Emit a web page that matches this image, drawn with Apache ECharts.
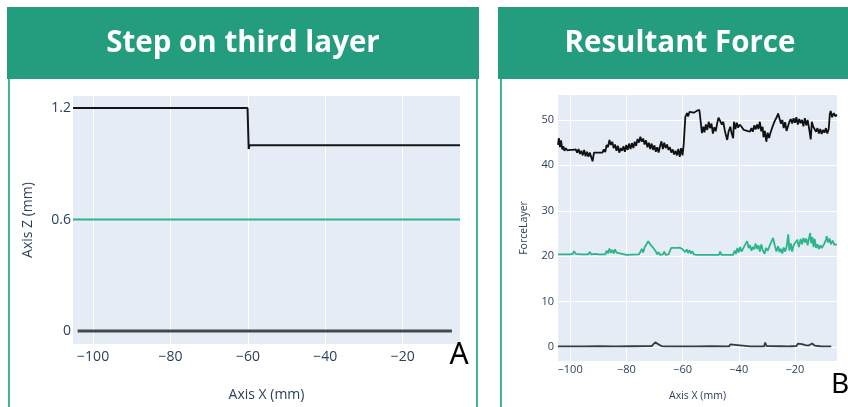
<!DOCTYPE html>
<html>
<head>
<meta charset="utf-8">
<style>
html,body{margin:0;padding:0;background:#fff;}
#chart{width:848px;height:407px;}
</style>
<script src="https://cdn.jsdelivr.net/npm/echarts@6/dist/echarts.min.js"></script>
</head>
<body>
<div id="chart"></div>
<script>
// ---- Panel titles / labels ----
const titleLeft = 'Step on third layer';
const titleRight = 'Resultant Force';
const panelTagLeft = 'A';
const panelTagRight = 'B';
const axisXName = 'Axis X (mm)';
const axisZName = 'Axis Z (mm)';
const forceName = 'ForceLayer';
const zTicks = [0, 0.6, 1.2];

// ---- Left panel: step on third layer ----
const stepX = [-105.2, -60.1, -59.8, -59.6, -59.2, -5.2];
const stepZ = [1.2, 1.2, 0.98, 1.0, 1.0, 1.0];
const layerX = [-105.2, -5.2];
const layerZ = [0.6, 0.6];
const baseX = [-104.0, -7.3];
const baseZ = [0, 0];

// ---- Right panel: resultant force ----
const forceTopX = [
 -104.3,-104.0,-103.6,-103.2,-102.8,-102.4,-102.0,-101.5,-101.0,-100.0,
 -99.0,-98.5,-98.0,-97.5,-97.0,-96.5,-96.0,-95.5,-95.0,-94.5,
 -94.0,-93.5,-93.0,-92.5,-92.0,-91.5,-90.0,-88.5,-88.0,-87.5,
 -87.0,-86.5,-86.0,-85.5,-85.0,-84.5,-84.0,-83.5,-83.0,-82.5,
 -82.0,-81.5,-81.0,-80.5,-80.0,-79.5,-79.0,-78.5,-78.0,-77.5,
 -77.0,-76.5,-76.0,-75.5,-75.0,-74.5,-74.0,-73.5,-73.0,-72.5,
 -72.0,-71.5,-71.0,-70.5,-70.0,-69.5,-69.0,-68.5,-68.0,-67.5,
 -67.0,-66.5,-66.0,-65.5,-65.0,-64.5,-64.0,-63.5,-63.0,-62.5,
 -62.0,-61.5,-61.0,-60.5,-60.0,-59.6,-59.0,-58.4,-58.0,-57.5,
 -57.0,-56.0,-55.0,-54.0,-53.6,-53.1,-52.6,-52.2,-51.7,-51.2,
 -50.7,-50.2,-49.7,-49.2,-48.7,-48.2,-47.7,-47.2,-46.5,-46.0,
 -45.5,-45.0,-44.5,-44.1,-43.6,-43.0,-42.5,-42.0,-41.7,-41.2,
 -40.7,-40.2,-39.7,-39.0,-38.2,-37.0,-36.0,-35.5,-35.0,-34.5,
 -34.0,-33.5,-33.0,-32.5,-32.0,-31.5,-31.2,-30.7,-30.2,-29.7,
 -29.2,-28.8,-28.0,-27.2,-26.5,-26.0,-25.5,-25.0,-24.5,-24.0,
 -23.5,-23.0,-22.4,-22.0,-21.5,-21.0,-20.5,-20.0,-19.5,-19.0,
 -18.5,-18.0,-17.5,-17.0,-16.5,-16.0,-15.5,-15.0,-14.4,-14.0,
 -13.5,-13.0,-12.5,-12.0,-11.5,-11.0,-10.5,-10.0,-9.5,-9.0,
 -8.5,-8.0,-7.6,-7.3,-6.8,-6.2,-5.6,-5.1
];
const forceTopY = [
 44.5,46.0,44.0,45.5,43.5,44.2,43.2,43.8,43.3,43.4,
 43.4,43.8,43.5,42.8,43.6,42.5,43.2,42.2,43.4,42.0,
 43.0,41.9,42.8,42.6,40.9,42.8,42.8,42.8,43.5,42.9,
 44.5,44.0,45.6,44.5,45.2,43.8,44.6,43.2,44.3,42.8,
 43.8,43.2,44.2,43.0,44.5,43.4,44.8,43.6,44.9,43.8,
 45.2,44.3,45.8,45.0,46.3,45.2,45.9,44.6,45.5,44.0,
 45.0,43.6,44.8,43.4,44.4,43.0,44.0,42.8,44.2,45.3,
 43.6,45.0,43.8,44.6,43.4,44.0,42.8,43.5,42.4,43.2,
 42.2,43.6,41.9,43.8,42.2,44.5,50.7,51.5,50.8,51.8,
 51.4,51.6,52.0,52.2,51.8,47.1,48.5,47.3,49.0,47.8,
 49.6,48.2,49.2,47.0,48.4,47.5,49.2,50.5,50.3,49.0,
 49.6,47.8,46.5,45.6,47.5,48.5,47.0,46.0,49.6,48.0,
 49.4,48.3,49.0,48.5,47.8,47.6,47.4,48.2,47.4,48.8,
 47.9,49.0,48.0,49.6,47.5,48.5,46.2,47.6,45.2,47.2,
 46.0,47.0,48.5,49.8,50.6,51.4,50.3,49.2,50.0,48.2,
 49.5,47.6,48.8,49.6,50.2,49.2,50.4,49.4,50.6,49.0,
 50.2,49.3,50.0,48.6,50.4,48.8,50.0,48.2,45.7,49.6,
 48.5,48.6,47.4,48.2,47.0,48.0,46.9,47.8,47.2,48.2,
 47.0,48.0,51.3,52.0,50.6,51.5,50.8,51.2
];

const forceMidX = [
 -104.3,-100.0,-99.0,-98.6,-98.0,-96.0,-93.5,-93.0,-92.5,-91.0,
 -90.5,-90.0,-87.5,-87.0,-86.5,-86.0,-85.5,-85.0,-84.5,-84.0,
 -83.5,-83.0,-80.0,-75.5,-75.0,-74.5,-74.0,-73.5,-73.0,-72.2,
 -71.5,-70.5,-69.5,-69.0,-68.5,-68.0,-67.0,-66.5,-66.0,-65.0,
 -64.5,-64.0,-62.0,-61.0,-60.0,-59.5,-59.0,-58.5,-58.0,-57.5,
 -57.0,-56.5,-56.0,-55.0,-47.0,-46.6,-46.2,-42.0,-41.5,-41.0,
 -40.5,-40.0,-39.5,-39.0,-38.5,-38.0,-37.0,-36.5,-36.0,-35.5,
 -35.0,-34.5,-34.0,-33.5,-33.0,-32.5,-32.0,-31.5,-30.8,-30.3,
 -29.7,-28.8,-27.8,-27.2,-26.6,-26.0,-25.5,-25.0,-24.5,-24.0,
 -23.5,-23.0,-22.4,-22.0,-21.5,-21.0,-20.5,-19.8,-19.2,-18.6,
 -18.0,-17.5,-17.0,-16.5,-16.0,-15.5,-14.6,-14.2,-13.8,-13.4,
 -13.0,-12.5,-12.0,-11.5,-11.0,-10.5,-10.0,-9.5,-9.0,-8.7,
 -8.2,-7.7,-7.2,-6.6,-6.0,-5.1
];
const forceMidY = [
 20.4,20.4,20.5,21.1,20.5,20.4,20.4,20.9,20.4,20.5,
 20.9,20.4,20.4,21.2,20.6,21.7,20.7,21.4,20.6,21.5,
 20.8,20.5,20.3,20.4,20.9,21.6,20.8,21.9,21.5,23.3,
 22.6,21.9,21.0,20.4,20.9,20.3,20.4,21.0,20.3,20.4,
 21.1,21.8,21.8,21.9,21.5,21.8,20.9,21.5,20.7,21.3,
 20.6,21.1,20.4,20.3,20.3,21.0,20.3,20.3,21.2,20.5,
 21.8,20.8,22.0,21.0,21.6,22.2,23.3,21.8,22.4,21.2,
 22.0,21.5,22.8,21.6,22.4,21.0,22.6,21.4,20.5,21.8,
 21.2,22.6,24.0,22.4,21.0,22.2,20.9,21.6,20.6,21.9,
 21.0,22.0,24.8,21.2,22.8,21.0,22.4,22.5,23.6,22.0,
 23.8,22.6,24.0,23.0,23.9,22.4,25.1,22.8,24.2,22.0,
 23.8,21.8,22.6,21.6,22.4,21.8,22.2,22.8,23.6,24.4,
 23.0,23.9,22.6,23.4,22.5,22.6
];

const forceLowX = [
 -104.3,-95.0,-90.0,-84.5,-84.0,-83.5,-78.0,-71.0,-70.3,-69.7,
 -69.0,-68.3,-67.5,-66.0,-55.0,-50.0,-43.5,-43.0,-42.3,-36.0,
 -31.0,-30.6,-30.1,-25.0,-22.2,-21.7,-21.2,-19.5,-18.9,-18.3,
 -17.5,-16.8,-16.3,-15.2,-13.9,-13.0,-11.0,-9.0,-7.1
];
const forceLowY = [
 0.1,0.1,0.15,0.1,0.45,0.1,0.15,0.2,0.5,1.0,
 0.8,0.5,0.2,0.1,0.1,0.15,0.1,0.55,0.15,0.1,
 0.1,0.95,0.2,0.15,0.1,0.5,0.15,0.2,0.75,0.45,
 0.6,1.0,0.4,0.3,0.75,0.3,0.15,0.1,0.1
];

const zip = (xs, ys) => xs.map((x, i) => [x, ys[i]]);

const HEADER = '#249d7e';
const BORDER = '#3fb692';
const PLOTBG = '#e5ecf6';
const TICK = '#2a3f5f';
const FONT = '"Open Sans", "Noto Sans", sans-serif';

function xLabel(v) {
  if (Math.abs(v / 20 - Math.round(v / 20)) > 1e-6) return '';
  return v < 0 ? '\u2212' + Math.abs(Math.round(v)) : String(Math.round(v));
}

const chart = echarts.init(document.getElementById('chart'), null, {renderer: 'canvas'});

const option = {
  backgroundColor: '#ffffff',
  animation: false,
  textStyle: {fontFamily: FONT},
  grid: [
    {left: 73, top: 96, width: 387, height: 250, show: true, backgroundColor: PLOTBG, borderWidth: 0},
    {left: 558, top: 95, width: 279, height: 267, show: true, backgroundColor: PLOTBG, borderWidth: 0}
  ],
  xAxis: [
    {
      type: 'value', gridIndex: 0, min: -105.2, max: -5.2,
      name: axisXName, nameLocation: 'middle', nameGap: 44,
      nameTextStyle: {color: TICK, fontSize: 14, fontFamily: FONT},
      axisLine: {show: false}, axisTick: {show: false},
      axisLabel: {color: TICK, fontSize: 14, margin: 6, formatter: xLabel, fontFamily: FONT},
      splitLine: {show: true, showMinLine: false, showMaxLine: false, lineStyle: {color: '#ffffff', width: 1}}
    },
    {
      type: 'value', gridIndex: 1, min: -104.3, max: -5.05,
      name: axisXName, nameLocation: 'middle', nameGap: 30,
      nameTextStyle: {color: TICK, fontSize: 10.5, fontFamily: FONT},
      axisLine: {show: false}, axisTick: {show: false},
      axisLabel: {color: TICK, fontSize: 11, margin: 3, formatter: xLabel, fontFamily: FONT},
      splitLine: {show: true, showMinLine: false, showMaxLine: false, lineStyle: {color: '#ffffff', width: 1}}
    }
  ],
  yAxis: [
    {
      type: 'value', gridIndex: 0, min: -0.07, max: 1.265,
      name: axisZName, nameLocation: 'middle', nameGap: 38,
      nameTextStyle: {color: TICK, fontSize: 14, fontFamily: FONT},
      axisLine: {show: false}, axisTick: {show: false},
      axisLabel: {
        color: TICK, fontSize: 14, margin: 2, fontFamily: FONT,
        formatter: v => {
          const t = zTicks.find(z => Math.abs(v - z) < 1e-6);
          return t === undefined ? '' : String(t);
        }
      },
      splitLine: {show: false}
    },
    {
      type: 'value', gridIndex: 1, min: -3.1, max: 55.5,
      name: forceName, nameLocation: 'middle', nameGap: 28,
      nameTextStyle: {color: TICK, fontSize: 10.5, fontFamily: FONT},
      axisLine: {show: false}, axisTick: {show: false},
      axisLabel: {
        color: TICK, fontSize: 11, margin: 4, fontFamily: FONT,
        formatter: v => (Math.abs(v / 10 - Math.round(v / 10)) < 1e-6 ? String(Math.round(v)) : '')
      },
      splitLine: {show: true, showMinLine: false, showMaxLine: false, lineStyle: {color: '#ffffff', width: 1}}
    }
  ],
  series: [
    {type: 'line', xAxisIndex: 0, yAxisIndex: 0, data: zip(baseX, baseZ), showSymbol: false, lineStyle: {color: '#3c4d4a', width: 3}},
    {type: 'line', xAxisIndex: 0, yAxisIndex: 0, data: zip(layerX, layerZ), showSymbol: false, lineStyle: {color: '#2db58a', width: 2}},
    {type: 'line', xAxisIndex: 0, yAxisIndex: 0, data: zip(stepX, stepZ), showSymbol: false, lineStyle: {color: '#151515', width: 2}},
    {type: 'line', xAxisIndex: 1, yAxisIndex: 1, data: zip(forceLowX, forceLowY), showSymbol: false, lineStyle: {color: '#2f403c', width: 1.8}},
    {type: 'line', xAxisIndex: 1, yAxisIndex: 1, data: zip(forceMidX, forceMidY), showSymbol: false, lineStyle: {color: '#2db58a', width: 1.8}},
    {type: 'line', xAxisIndex: 1, yAxisIndex: 1, data: zip(forceTopX, forceTopY), showSymbol: false, lineStyle: {color: '#111111', width: 1.8}}
  ],
  graphic: [
    {type: 'rect', shape: {x: 7, y: 7, width: 472, height: 72}, style: {fill: HEADER}, z: 10},
    {type: 'rect', shape: {x: 498, y: 7, width: 350, height: 72}, style: {fill: HEADER}, z: 10},
    {type: 'text', x: 243, y: 44, style: {text: titleLeft, fill: '#ffffff', font: 'bold 29.5px "Open Sans", "Noto Sans", sans-serif', align: 'center', verticalAlign: 'middle'}, z: 11},
    {type: 'text', x: 680, y: 44, style: {text: titleRight, fill: '#ffffff', font: 'bold 29.5px "Open Sans", "Noto Sans", sans-serif', align: 'center', verticalAlign: 'middle'}, z: 11},
    {type: 'rect', shape: {x: 8, y: 79, width: 2, height: 328}, style: {fill: BORDER}, z: 10},
    {type: 'rect', shape: {x: 476, y: 79, width: 2, height: 328}, style: {fill: BORDER}, z: 10},
    {type: 'rect', shape: {x: 500, y: 79, width: 2, height: 328}, style: {fill: BORDER}, z: 10},
    {type: 'text', x: 459, y: 355, style: {text: panelTagLeft, fill: '#000000', font: '30px "Noto Sans", sans-serif', align: 'center', verticalAlign: 'middle'}, z: 11},
    {type: 'text', x: 840, y: 385, style: {text: panelTagRight, fill: '#000000', font: '28px "Noto Sans", sans-serif', align: 'center', verticalAlign: 'middle'}, z: 11}
  ]
};

chart.setOption(option);
</script>
</body>
</html>
